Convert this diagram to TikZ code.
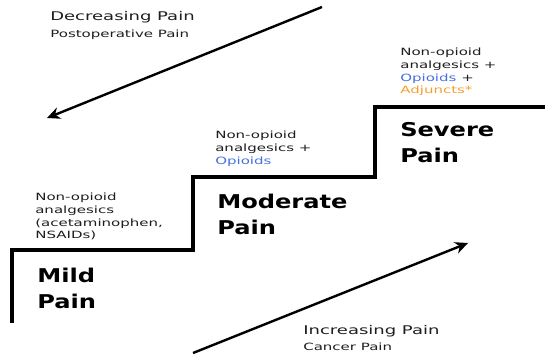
\documentclass[tikz,border=0pt]{standalone}
\usepackage{fontspec}
\setmainfont{DejaVu Sans}
\usepackage{xcolor}
\definecolor{inkgray}{RGB}{30,30,30}
\definecolor{opblue}{RGB}{70,112,222}
\definecolor{adjorange}{RGB}{245,160,45}
\usepackage{tikz}
\usetikzlibrary{arrows.meta,positioning}

\begin{document}
\begin{tikzpicture}[x=1pt, y=-1pt, >={Stealth[length=13pt,width=12pt]}, every node/.style={inner sep=0pt, text=inkgray}]
    \tikzstyle{drug}=[xscale=1.5, anchor=north west, align=left, font=\fontsize{10}{12.7}\selectfont]
    \tikzstyle{level}=[xscale=1.27, anchor=north west, align=left, text=black, font=\fontsize{19}{26}\selectfont\bfseries]
    \tikzstyle{trend}=[xscale=1.5, anchor=base west, font=\fontsize{12}{14}\selectfont]
    \tikzstyle{cause}=[xscale=1.5, anchor=base west, font=\fontsize{10}{12}\selectfont]
    \tikzstyle{stair}=[line width=4pt, black]
    \tikzstyle{trendarrow}=[->, line width=2.4pt, black]

    \useasboundingbox (0,0) rectangle (545,356);

    % The three steps
    \draw[stair] (12,323) |- (193,250) |- (375,177) |- (547,107);

    % Levels
    \node[level] (mild) at (37,268) {Mild\\Pain};
    \node[level] (moderate) at (217,194) {Moderate\\Pain};
    \node[level] (severe) at (400,122) {Severe\\Pain};

    % Drugs on each step
    \node[drug] (mildrx) at (35,193) {Non-opioid\\analgesics\\(acetaminophen,\\NSAIDs)};
    \node[drug] (modrx) at (215,131) {Non-opioid\\analgesics +\\\textcolor{opblue}{Opioids}};
    \node[drug] (sevrx) at (400,48) {Non-opioid\\analgesics +\\\textcolor{opblue}{Opioids} +\\\textcolor{adjorange}{Adjuncts*}};

    % Trends
    \node[trend] (dec) at (50,20) {Decreasing Pain};
    \node[cause] (postop) at (50,37) {Postoperative Pain};
    \node[trend] (inc) at (303,334) {Increasing Pain};
    \node[cause] (cancer) at (303,350) {Cancer Pain};

    \coordinate (dectail) at (322,7);
    \coordinate (dectip) at (47,118);
    \coordinate (inctail) at (193,353);
    \coordinate (inctip) at (468,243);
    \draw[trendarrow] (dectail) -- (dectip);
    \draw[trendarrow] (inctail) -- (inctip);
\end{tikzpicture}
\end{document}
